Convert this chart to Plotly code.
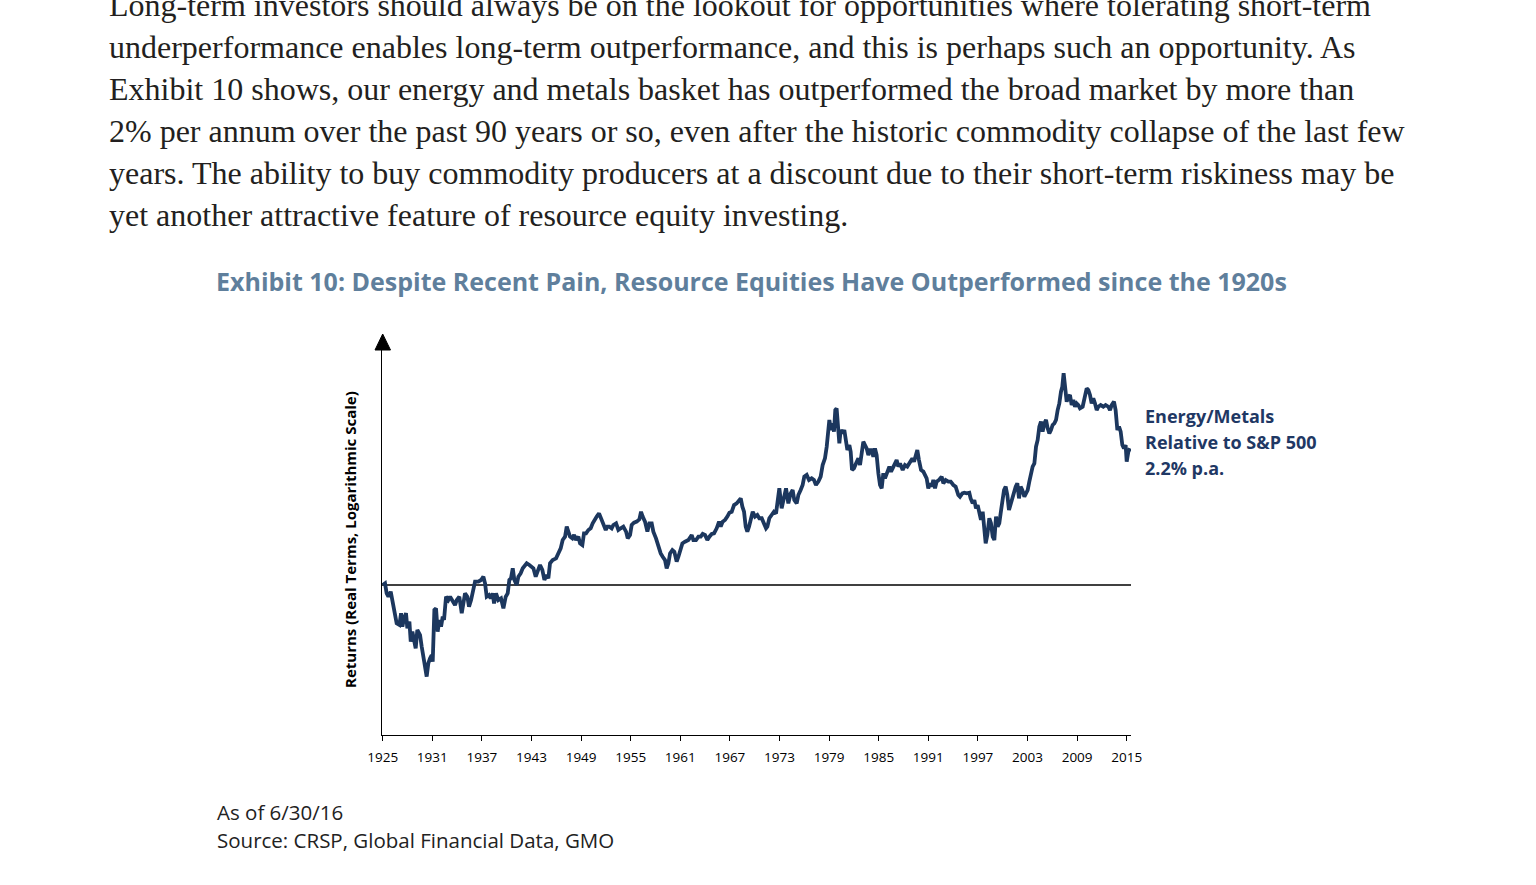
import plotly.graph_objects as go
import numpy as np

W, H = 1536, 885

# relative return of energy/metals vs S&P 500, log10 of cumulative ratio (1925 = 0)
years = [
    1925.00, 1925.28, 1925.48, 1925.69, 1925.97, 1926.09, 1926.29, 1926.49, 1926.69, 1927.02,
    1927.22, 1927.38, 1927.58, 1927.82, 1927.98, 1928.23, 1928.39, 1928.59, 1928.79, 1928.99,
    1929.19, 1929.52, 1929.72, 1929.92, 1930.12, 1930.32, 1930.52, 1930.73, 1930.93, 1931.05,
    1931.25, 1931.45, 1931.65, 1931.85, 1932.06, 1932.26, 1932.42, 1932.66, 1932.94, 1933.15,
    1933.47, 1933.75, 1933.95, 1934.27, 1934.56, 1934.76, 1934.96, 1935.24, 1935.44, 1935.69,
    1935.89, 1936.17, 1936.57, 1936.90, 1937.18, 1937.38, 1937.58, 1937.86, 1938.06, 1938.31,
    1938.47, 1938.71, 1938.99, 1939.31, 1939.60, 1939.88, 1940.12, 1940.32, 1940.52, 1940.73,
    1940.93, 1941.21, 1941.41, 1941.69, 1941.94, 1942.22, 1942.42, 1942.74, 1943.02, 1943.23,
    1943.51, 1943.83, 1944.03, 1944.31, 1944.56, 1944.84, 1945.04, 1945.24, 1945.56, 1945.97,
    1946.25, 1946.53, 1946.77, 1947.06, 1947.26, 1947.46, 1947.66, 1947.94, 1948.15, 1948.39,
    1948.67, 1948.87, 1949.15, 1949.35, 1949.60, 1949.88, 1950.16, 1950.40, 1950.60, 1950.89,
    1951.17, 1951.41, 1951.69, 1951.98, 1952.18, 1952.42, 1952.70, 1952.90, 1953.23, 1953.51,
    1953.79, 1954.11, 1954.44, 1954.64, 1954.92, 1955.12, 1955.40, 1955.73, 1956.05, 1956.25,
    1956.45, 1956.73, 1957.02, 1957.26, 1957.54, 1957.74, 1958.06, 1958.35, 1958.63, 1958.87,
    1959.15, 1959.35, 1959.56, 1959.76, 1960.04, 1960.28, 1960.56, 1960.77, 1960.97, 1961.25,
    1961.57, 1961.98, 1962.38, 1962.58, 1962.90, 1963.19, 1963.47, 1963.71, 1963.99, 1964.27,
    1964.52, 1964.80, 1965.08, 1965.40, 1965.69, 1965.89, 1966.13, 1966.41, 1966.69, 1966.94,
    1967.22, 1967.50, 1967.82, 1968.10, 1968.31, 1968.51, 1968.71, 1968.91, 1969.11, 1969.31,
    1969.52, 1969.76, 1970.04, 1970.32, 1970.56, 1970.85, 1971.37, 1971.53, 1971.77, 1972.05,
    1972.33, 1972.58, 1972.86, 1972.98, 1973.26, 1973.54, 1973.79, 1974.07, 1974.35, 1974.59,
    1974.79, 1975.08, 1975.28, 1975.56, 1975.80, 1976.00, 1976.29, 1976.57, 1976.89, 1977.17,
    1977.41, 1977.70, 1977.98, 1978.22, 1978.50, 1978.71, 1978.91, 1979.03, 1979.23, 1979.43,
    1979.59, 1979.75, 1979.91, 1980.04, 1980.24, 1980.40, 1980.64, 1980.84, 1981.04, 1981.21,
    1981.45, 1981.61, 1981.77, 1982.01, 1982.25, 1982.54, 1982.74, 1982.94, 1983.14, 1983.34,
    1983.54, 1983.75, 1983.95, 1984.15, 1984.35, 1984.55, 1984.75, 1984.96, 1985.16, 1985.36,
    1985.56, 1985.76, 1986.04, 1986.29, 1986.49, 1986.69, 1986.97, 1987.17, 1987.37, 1987.58,
    1987.90, 1988.18, 1988.46, 1988.79, 1989.07, 1989.27, 1989.51, 1989.67, 1989.87, 1990.12,
    1990.40, 1990.64, 1990.80, 1991.00, 1991.21, 1991.41, 1991.61, 1991.81, 1992.01, 1992.29,
    1992.62, 1992.82, 1993.10, 1993.42, 1993.71, 1994.03, 1994.31, 1994.63, 1994.83, 1995.12,
    1995.36, 1995.64, 1995.96, 1996.12, 1996.37, 1996.57, 1996.77, 1996.97, 1997.17, 1997.37,
    1997.58, 1997.74, 1997.94, 1998.14, 1998.38, 1998.58, 1998.79, 1998.99, 1999.19, 1999.39,
    1999.59, 1999.75, 1999.95, 2000.16, 2000.36, 2000.56, 2000.76, 2000.96, 2001.16, 2001.37,
    2001.57, 2001.77, 2001.97, 2002.17, 2002.37, 2002.62, 2002.82, 2003.02, 2003.22, 2003.42,
    2003.62, 2003.83, 2004.03, 2004.23, 2004.43, 2004.63, 2004.83, 2005.04, 2005.24, 2005.44,
    2005.64, 2005.84, 2006.04, 2006.25, 2006.45, 2006.65, 2006.85, 2007.05, 2007.21, 2007.37,
    2007.54, 2007.74, 2007.94, 2008.14, 2008.34, 2008.54, 2008.75, 2008.95, 2009.15, 2009.35,
    2009.67, 2009.95, 2010.16, 2010.36, 2010.56, 2010.76, 2010.96, 2011.16, 2011.37, 2011.57,
    2011.85, 2012.17, 2012.45, 2012.78, 2012.98, 2013.18, 2013.46, 2013.66, 2013.87, 2014.07,
    2014.27, 2014.47, 2014.67, 2014.87, 2015.00, 2015.20, 2015.40,
]
log_rel = [
    0.000, 0.011, -0.055, -0.077, -0.044, -0.077, -0.164, -0.208, -0.252, -0.263,
    -0.186, -0.274, -0.219, -0.186, -0.285, -0.241, -0.373, -0.307, -0.384, -0.417,
    -0.296, -0.329, -0.406, -0.493, -0.537, -0.603, -0.515, -0.482, -0.461, -0.504,
    -0.164, -0.154, -0.307, -0.230, -0.274, -0.208, -0.230, -0.077, -0.099, -0.077,
    -0.110, -0.132, -0.099, -0.077, -0.186, -0.132, -0.055, -0.077, -0.143, -0.099,
    -0.033, 0.022, 0.022, 0.033, 0.055, 0.011, -0.077, -0.066, -0.088, -0.055,
    -0.121, -0.055, -0.099, -0.088, -0.154, -0.077, -0.055, 0.033, 0.044, 0.110,
    0.033, 0.000, 0.055, 0.077, 0.110, 0.132, 0.143, 0.132, 0.121, 0.110,
    0.055, 0.099, 0.132, 0.099, 0.033, 0.066, 0.044, 0.143, 0.164, 0.175,
    0.208, 0.241, 0.296, 0.318, 0.384, 0.351, 0.318, 0.307, 0.329, 0.296,
    0.318, 0.274, 0.263, 0.340, 0.340, 0.362, 0.373, 0.406, 0.428, 0.450,
    0.471, 0.439, 0.406, 0.362, 0.384, 0.384, 0.373, 0.395, 0.406, 0.362,
    0.373, 0.384, 0.351, 0.307, 0.329, 0.395, 0.410, 0.417, 0.432, 0.482,
    0.450, 0.417, 0.351, 0.406, 0.406, 0.351, 0.307, 0.252, 0.208, 0.186,
    0.164, 0.110, 0.143, 0.208, 0.230, 0.219, 0.154, 0.186, 0.230, 0.274,
    0.285, 0.296, 0.329, 0.296, 0.296, 0.318, 0.318, 0.336, 0.329, 0.296,
    0.318, 0.336, 0.340, 0.373, 0.417, 0.384, 0.417, 0.428, 0.450, 0.476,
    0.482, 0.526, 0.537, 0.559, 0.570, 0.515, 0.482, 0.384, 0.351, 0.384,
    0.439, 0.482, 0.450, 0.461, 0.439, 0.439, 0.373, 0.384, 0.439, 0.461,
    0.482, 0.471, 0.603, 0.636, 0.504, 0.570, 0.636, 0.537, 0.603, 0.625,
    0.559, 0.537, 0.592, 0.625, 0.658, 0.713, 0.724, 0.691, 0.702, 0.691,
    0.658, 0.680, 0.713, 0.789, 0.833, 0.910, 0.998, 1.086, 1.020, 1.064,
    1.009, 1.151, 1.162, 1.042, 0.932, 1.020, 0.998, 1.020, 0.921, 0.888,
    0.921, 0.877, 0.757, 0.768, 0.800, 0.833, 0.789, 0.888, 0.943, 0.921,
    0.899, 0.855, 0.888, 0.888, 0.844, 0.899, 0.855, 0.735, 0.658, 0.636,
    0.735, 0.702, 0.735, 0.779, 0.746, 0.768, 0.789, 0.822, 0.779, 0.800,
    0.757, 0.789, 0.779, 0.811, 0.833, 0.811, 0.855, 0.888, 0.822, 0.757,
    0.746, 0.713, 0.702, 0.636, 0.669, 0.647, 0.691, 0.636, 0.680, 0.691,
    0.713, 0.669, 0.691, 0.680, 0.680, 0.658, 0.647, 0.592, 0.581, 0.603,
    0.607, 0.603, 0.607, 0.570, 0.537, 0.559, 0.504, 0.526, 0.471, 0.428,
    0.482, 0.362, 0.274, 0.329, 0.439, 0.406, 0.318, 0.296, 0.450, 0.384,
    0.406, 0.471, 0.537, 0.625, 0.647, 0.592, 0.493, 0.537, 0.581, 0.603,
    0.647, 0.669, 0.570, 0.647, 0.625, 0.581, 0.603, 0.625, 0.680, 0.735,
    0.779, 0.800, 0.910, 0.954, 1.042, 1.075, 1.009, 1.064, 1.086, 1.031,
    0.998, 1.020, 1.053, 1.064, 1.086, 1.151, 1.195, 1.272, 1.305, 1.393,
    1.272, 1.206, 1.239, 1.250, 1.184, 1.217, 1.173, 1.195, 1.184, 1.162,
    1.173, 1.239, 1.294, 1.283, 1.250, 1.195, 1.228, 1.195, 1.151, 1.173,
    1.184, 1.173, 1.184, 1.173, 1.151, 1.184, 1.206, 1.151, 1.020, 1.042,
    1.009, 0.921, 0.899, 0.921, 0.811, 0.877, 0.899,
]

tick_years = list(range(1925, 2016, 6))
baseline_value = 1.0

title = "Exhibit 10: Despite Recent Pain, Resource Equities Have Outperformed since the 1920s"
series_label = ["Energy/Metals", "Relative to S&P 500", "2.2% p.a."]
y_title = "Returns (Real Terms, Logarithmic Scale)"
body_lines = [
    "Long-term investors should always be on the lookout for opportunities where tolerating short-term",
    "underperformance enables long-term outperformance, and this is perhaps such an opportunity. As",
    "Exhibit 10 shows, our energy and metals basket has outperformed the broad market by more than",
    "2% per annum over the past 90 years or so, even after the historic commodity collapse of the last few",
    "years. The ability to buy commodity producers at a discount due to their short-term riskiness may be",
    "yet another attractive feature of resource equity investing.",
]
notes = ["As of 6/30/16", "Source: CRSP, Global Financial Data, GMO"]

NAVY = "#1c375e"
SANS = "'Open Sans', 'Noto Sans', sans-serif"
SERIF = "'Liberation Serif', 'DejaVu Serif', serif"


def fx(p):
    return p / W


def fy(p):
    return 1 - p / H


rel = 10 ** np.array(log_rel)
x_range = [1924.915, 2015.52]

fig = go.Figure()
fig.add_trace(go.Scatter(
    x=x_range, y=[baseline_value, baseline_value], mode="lines",
    line=dict(color="black", width=1.3), hoverinfo="skip"))
fig.add_trace(go.Scatter(
    x=years, y=rel, mode="lines", name="Energy/Metals",
    line=dict(color=NAVY, width=3.8)))

anns = []
for i, line in enumerate(body_lines):
    anns.append(dict(text=line, x=fx(107), y=fy(5 + 42 * i), xanchor="left", yanchor="middle",
                     font=dict(family=SERIF, size=32, color="#231f20")))
anns.append(dict(text="<b>" + title + "</b>", x=fx(751), y=fy(281), xanchor="center", yanchor="middle",
                 font=dict(family=SANS, size=25, color="#5f7f9c")))
for i, line in enumerate(series_label):
    anns.append(dict(text="<b>" + line + "</b>", x=fx(1143), y=fy(416 + 26 * i), xanchor="left",
                     yanchor="middle", font=dict(family=SANS, size=18, color="#1f3864")))
anns.append(dict(text="<b>" + y_title + "</b>", x=fx(350), y=fy(540), textangle=-90,
                 xanchor="center", yanchor="middle", font=dict(family=SANS, size=15, color="black")))
for i, line in enumerate(notes):
    anns.append(dict(text=line, x=fx(215), y=fy(812 + 28 * i), xanchor="left", yanchor="middle",
                     font=dict(family=SANS, size=20.5, color="#222222")))
for a in anns:
    a.update(xref="paper", yref="paper", showarrow=False)

# arrow head on top of the y axis
arrow = "M {} {} L {} {} L {} {} Z".format(fx(375), fy(350), fx(390.5), fy(350), fx(382.7), fy(334))

fig.update_layout(
    width=W, height=H, margin=dict(l=0, r=0, t=0, b=0, pad=0),
    paper_bgcolor="white", plot_bgcolor="white", showlegend=False,
    annotations=anns,
    shapes=[dict(type="path", path=arrow, xref="paper", yref="paper",
                 fillcolor="black", line=dict(color="black", width=1))],
    xaxis=dict(domain=[fx(382), fx(1131)], range=x_range, showgrid=False, zeroline=False,
               automargin=False, showline=True, linecolor="black", linewidth=1,
               ticks="outside", ticklen=5, tickcolor="black", ticklabelstandoff=5,
               tickvals=tick_years, ticktext=[str(t) for t in tick_years],
               tickfont=dict(family=SANS, size=13.5, color="black")),
    yaxis=dict(domain=[fy(735), fy(340)], type="log", range=[-0.987, 1.612], showgrid=False,
               zeroline=False, automargin=False, showline=True, linecolor="black", linewidth=1,
               showticklabels=False, ticks=""),
)

fig.write_html("out.html", config={"displayModeBar": False},
               post_script="document.body.style.margin='0';")
